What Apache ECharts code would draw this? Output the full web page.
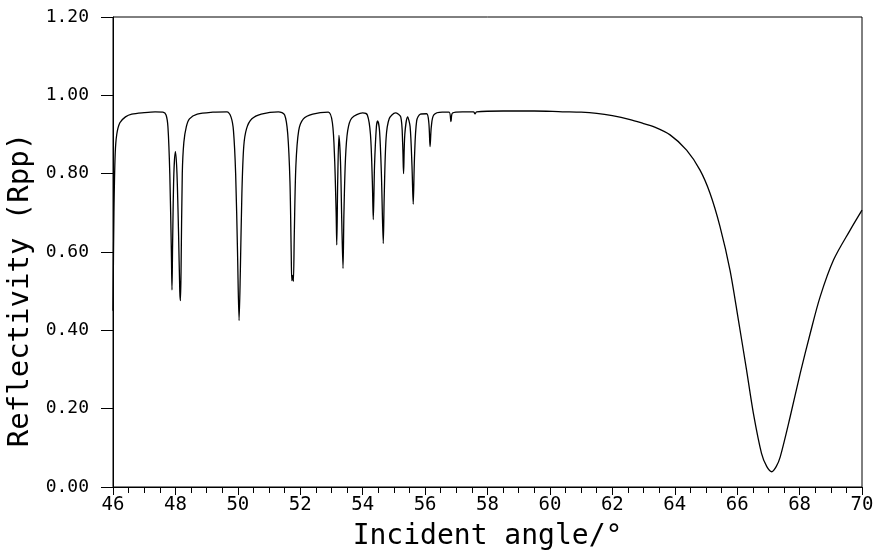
<!DOCTYPE html>
<html>
<head>
<meta charset="utf-8">
<title>Reflectivity (Rpp)</title>
<script src="https://cdn.jsdelivr.net/npm/echarts@6/dist/echarts.min.js"></script>
<style>
    html, body { margin: 0; padding: 0; background: #fff; }
    #main { width: 879px; height: 557px; }
</style>
</head>
<body>
<div id="main"></div>
<script>
    // 入射角 (°)
    var angles = [
        46.00, 46.03, 46.07, 46.12, 46.22, 46.40, 46.60, 47.00, 47.35, 47.60,
        47.70, 47.76, 47.82, 47.87, 47.89, 47.91, 47.95, 48.00, 48.05, 48.10,
        48.14, 48.16, 48.18, 48.22, 48.27, 48.35, 48.45, 48.70, 49.20, 49.65,
        49.78, 49.86, 49.93, 49.99, 50.04, 50.08, 50.13, 50.19, 50.28, 50.45,
        50.75, 51.30, 51.50, 51.60, 51.67, 51.71, 51.73, 51.76, 51.78, 51.81,
        51.86, 51.95, 52.10, 52.40, 52.90, 53.03, 53.10, 53.15, 53.17, 53.20,
        53.24, 53.29, 53.33, 53.37, 53.40, 53.45, 53.52, 53.65, 54.00, 54.15,
        54.25, 54.31, 54.34, 54.38, 54.44, 54.48, 54.54, 54.60, 54.66, 54.69,
        54.75, 54.85, 55.05, 55.22, 55.28, 55.31, 55.35, 55.44, 55.52, 55.58,
        55.62, 55.66, 55.73, 55.85, 56.05, 56.12, 56.16, 56.20, 56.28, 56.55,
        56.77, 56.83, 56.88, 57.20, 57.55, 57.60, 57.65, 58.50, 59.50, 60.40,
        61.00, 61.50, 62.00, 62.57, 63.00, 63.32, 63.85, 64.38, 64.81, 65.13,
        65.45, 65.77, 66.04, 66.30, 66.52, 66.78, 66.95, 67.11, 67.25, 67.38,
        67.70, 68.02, 68.34, 68.66, 69.09, 69.62, 70.00
    ];
    // 反射率 Rpp
    var rpp = [
        0.450, 0.700, 0.850, 0.900, 0.930, 0.945, 0.952, 0.956, 0.958, 0.957,
        0.950, 0.920, 0.800, 0.600, 0.503, 0.620, 0.800, 0.856, 0.800, 0.650,
        0.500, 0.476, 0.550, 0.800, 0.880, 0.920, 0.940, 0.952, 0.957, 0.958,
        0.945, 0.910, 0.800, 0.600, 0.425, 0.550, 0.750, 0.870, 0.915, 0.940,
        0.952, 0.958, 0.950, 0.900, 0.780, 0.600, 0.527, 0.540, 0.525, 0.650,
        0.820, 0.910, 0.940, 0.952, 0.957, 0.930, 0.840, 0.700, 0.618, 0.780,
        0.898, 0.830, 0.680, 0.558, 0.700, 0.840, 0.910, 0.942, 0.955, 0.950,
        0.900, 0.780, 0.683, 0.820, 0.920, 0.935, 0.910, 0.800, 0.622, 0.740,
        0.890, 0.940, 0.955, 0.945, 0.880, 0.800, 0.900, 0.945, 0.920, 0.820,
        0.722, 0.840, 0.935, 0.952, 0.953, 0.930, 0.869, 0.920, 0.950, 0.957,
        0.957, 0.933, 0.955, 0.958, 0.958, 0.953, 0.958, 0.960, 0.960, 0.958,
        0.957, 0.954, 0.948, 0.938, 0.928, 0.920, 0.899, 0.860, 0.809, 0.750,
        0.665, 0.554, 0.426, 0.299, 0.188, 0.086, 0.052, 0.039, 0.052, 0.077,
        0.180, 0.290, 0.392, 0.486, 0.580, 0.656, 0.707
    ];
    var xTicks = [46, 48, 50, 52, 54, 56, 58, 60, 62, 64, 66, 68, 70];
    var yTicks = [0.00, 0.20, 0.40, 0.60, 0.80, 1.00, 1.20];

    var points = [];
    for (var i = 0; i < angles.length; i++) {
        points.push([angles[i], rpp[i]]);
    }

    var font = 'DejaVu Sans Mono';
    var myChart = echarts.init(document.getElementById('main'));

    var option = {
        backgroundColor: '#fff',
        animation: false,
        grid: {
            left: 113, right: 17, top: 17, bottom: 70,
            outerBoundsMode: 'none',
            containLabel: false,
            show: true, borderColor: '#000', borderWidth: 1
        },
        xAxis: {
            type: 'value',
            min: xTicks[0],
            max: xTicks[xTicks.length - 1],
            interval: 2,
            name: 'Incident angle/°',
            nameLocation: 'middle',
            nameGap: 36,
            nameTextStyle: { fontFamily: font, fontSize: 28, color: '#000' },
            axisLine: { lineStyle: { color: '#000', width: 1 } },
            axisTick: { inside: false, length: 8, lineStyle: { color: '#000' } },
            minorTick: { show: true, splitNumber: 4, length: 6, lineStyle: { color: '#000' } },
            splitLine: { show: false },
            axisLabel: { fontFamily: font, fontSize: 19, color: '#000', margin: 9 }
        },
        yAxis: {
            type: 'value',
            min: yTicks[0],
            max: yTicks[yTicks.length - 1],
            interval: 0.2,
            name: 'Reflectivity (Rpp)',
            nameLocation: 'middle',
            nameGap: 74,
            nameTextStyle: { fontFamily: font, fontSize: 29, color: '#000', padding: [0, 76, 0, 0] },
            axisLine: { show: true, lineStyle: { color: '#000', width: 1 } },
            axisTick: { show: true, inside: false, length: 12, lineStyle: { color: '#000' } },
            splitLine: { show: false },
            axisLabel: {
                fontFamily: font, fontSize: 18, color: '#000', margin: 24,
                formatter: function (v) { return v.toFixed(2); }
            }
        },
        series: [{
            type: 'line',
            data: points,
            showSymbol: false,
            smooth: 0.3,
            lineStyle: { color: '#000', width: 1.3 }
        }]
    };

    myChart.setOption(option);
</script>
</body>
</html>
